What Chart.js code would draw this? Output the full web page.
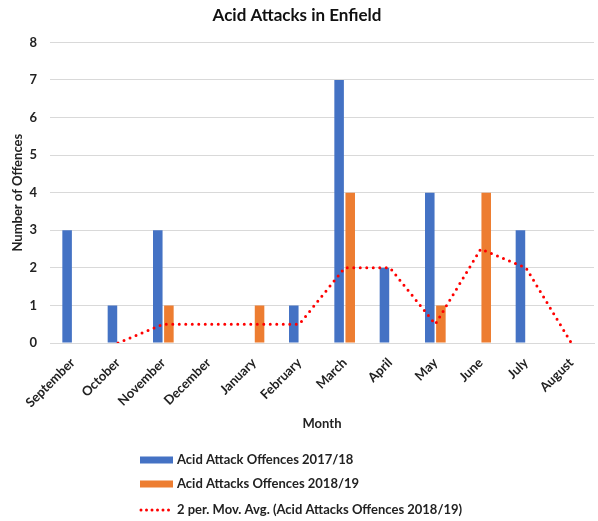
<!DOCTYPE html>
<html>
<head>
<meta charset="utf-8">
<script src="https://cdn.jsdelivr.net/npm/chart.js@4"></script>
<style>
html,body{margin:0;padding:0;background:#fff;}
#wrap{position:relative;width:598px;height:521px;}
</style>
</head>
<body>
<div id="wrap"><canvas id="c" width="598" height="521"></canvas></div>
<script>
const months = ['September','October','November','December','January','February','March','April','May','June','July','August'];
const offences1718 = [3,1,3,0,0,1,7,2,4,0,3,0];
const offences1819 = [0,0,1,0,1,0,4,0,1,4,0,0];
const movAvg1819 = [null,0,0.5,0.5,0.5,0.5,2,2,0.5,2.5,2,0];
const yTicks = [0,1,2,3,4,5,6,7,8];

const FONT = 'Lato, "Open Sans", sans-serif';
const TXT = '#222222';

const legendPlugin = {
  id: 'stackLegend',
  afterDraw(chart) {
    const ctx = chart.ctx;
    const rows = [460, 484, 510];
    ctx.save();
    ctx.font = 'bold 13px ' + FONT;
    ctx.textBaseline = 'middle';
    ctx.textAlign = 'left';
    chart.data.datasets.forEach((ds, i) => {
      const y = rows[i];
      if (ds.type === 'line') {
        ctx.strokeStyle = ds.borderColor;
        ctx.lineWidth = 3;
        ctx.lineCap = 'round';
        ctx.setLineDash([0, 5.5]);
        ctx.beginPath();
        ctx.moveTo(141, y);
        ctx.lineTo(173, y);
        ctx.stroke();
        ctx.setLineDash([]);
      } else {
        ctx.fillStyle = ds.backgroundColor;
        ctx.fillRect(140, y - 3.5, 33, 7);
      }
      ctx.fillStyle = TXT;
      ctx.fillText(ds.label, 177, y);
    });
    ctx.restore();
  }
};

new Chart(document.getElementById('c'), {
  type: 'bar',
  data: {
    labels: months,
    datasets: [
      {
        label: 'Acid Attack Offences 2017/18',
        data: offences1718,
        backgroundColor: '#4472C4',
        categoryPercentage: 0.49,
        barPercentage: 0.86,
        order: 1
      },
      {
        label: 'Acid Attacks Offences 2018/19',
        data: offences1819,
        backgroundColor: '#ED7D31',
        categoryPercentage: 0.49,
        barPercentage: 0.86,
        order: 1
      },
      {
        type: 'line',
        label: '2 per. Mov. Avg. (Acid Attacks Offences 2018/19)',
        data: movAvg1819,
        borderColor: '#FF0000',
        borderWidth: 3,
        borderDash: [0, 6.5],
        borderCapStyle: 'round',
        pointRadius: 0,
        tension: 0,
        fill: false,
        spanGaps: false,
        order: 0
      }
    ]
  },
  options: {
    responsive: false,
    animation: false,
    layout: { padding: { left: 0, right: 4, top: 0, bottom: 86 } },
    plugins: {
      legend: { display: false },
      tooltip: { enabled: false },
      title: {
        display: true,
        text: 'Acid Attacks in Enfield',
        color: '#111',
        font: { family: FONT, size: 17, weight: 'bold' },
        padding: { top: 5, bottom: 17 }
      }
    },
    scales: {
      x: {
        grid: { display: false, drawTicks: false },
        border: { display: true, color: '#d9d9d9' },
        ticks: {
          color: TXT,
          font: { family: FONT, size: 13, weight: 'bold' },
          maxRotation: 45,
          minRotation: 45,
          padding: 12,
          autoSkip: false
        },
        title: {
          display: true,
          text: 'Month',
          color: TXT,
          font: { family: FONT, size: 13, weight: 'bold' },
          padding: { top: 0, bottom: 3 }
        },
        afterFit(scale) { scale.height = 92; }
      },
      y: {
        min: 0,
        max: 8,
        afterBuildTicks(scale) { scale.ticks = yTicks.map(v => ({ value: v })); },
        grid: { color: '#d9d9d9', drawTicks: false },
        border: { display: false },
        ticks: {
          color: TXT,
          font: { family: FONT, size: 13, weight: 'bold' },
          padding: 13
        },
        title: {
          display: true,
          text: 'Number of Offences',
          color: TXT,
          font: { family: FONT, size: 13, weight: 'bold' },
          padding: { top: 10, bottom: 0 }
        },
        afterFit(scale) { scale.width = 50; }
      }
    }
  },
  plugins: [legendPlugin]
});
</script>
</body>
</html>
